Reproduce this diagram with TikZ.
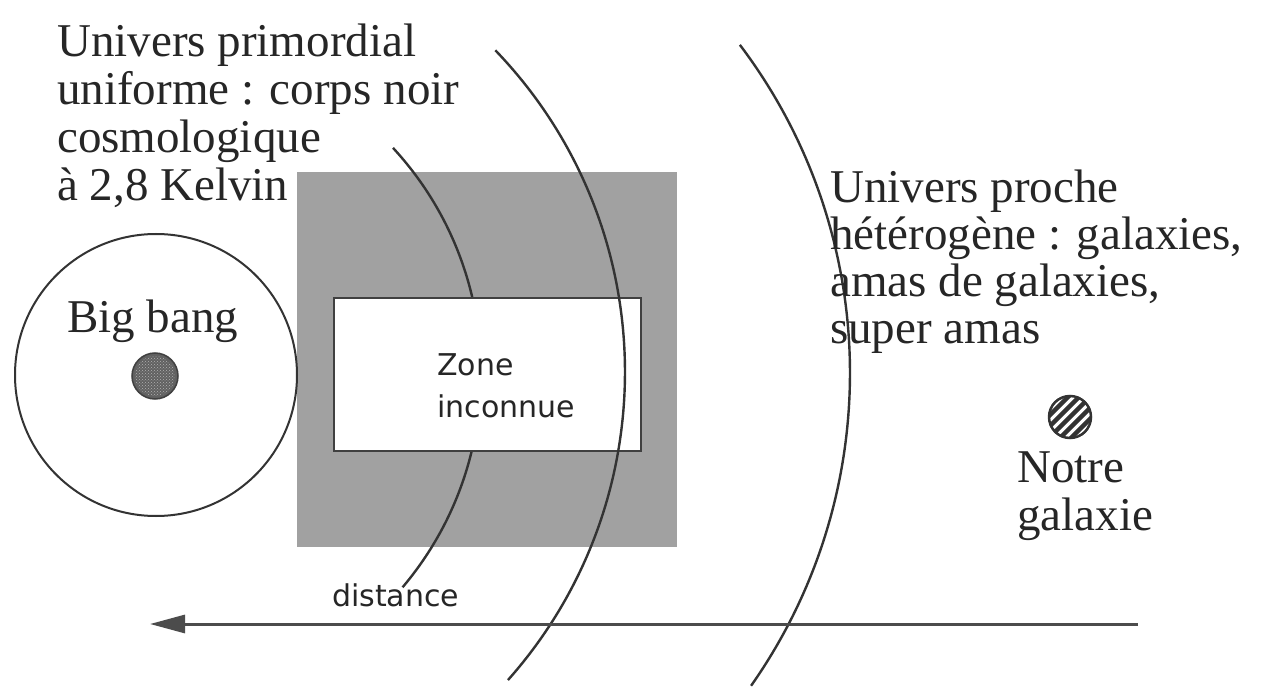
\documentclass[tikz,border=0pt]{standalone}
\usepackage{fontspec}
\setmainfont{Liberation Serif}
\newfontfamily\zonefont{DejaVu Sans}
\usetikzlibrary{arrows.meta,patterns}
\newcommand{\txtlines}[1]{\begin{tabular}[t]{@{}l@{}}#1\end{tabular}}
\begin{document}
\begin{tikzpicture}[x=1pt,y=-1pt,
  serif/.style={font=\fontsize{47}{48}\selectfont, text=black!85, inner sep=0pt, anchor=base west},
  sans/.style={font=\zonefont\fontsize{30}{42}\selectfont, text=black!85, inner sep=0pt, anchor=base west},
  ln/.style={draw=black!80, line width=2.4pt}]
\useasboundingbox (0,0) rectangle (1262,687);
\fill[white] (0,0) rectangle (1262,687);
% shaded square
\node[fill=black!37, minimum width=380pt, minimum height=375pt, inner sep=0pt, anchor=north west] (shade) at (297,172) {};
% inner arc (hidden inside the box)
\draw[ln] ([shift={(-42.7:332)}]149,373) arc[start angle=-42.7, end angle=40.2, radius=332];
% zone box
\node[fill=white, draw=black!75, line width=2.4pt, minimum width=307pt, minimum height=153pt, inner sep=0pt, anchor=north west] (zonebox) at (333,297) {};
% middle and outer arcs
\draw[ln] ([shift={(-43.9:464)}]161,372) arc[start angle=-43.9, end angle=41.6, radius=464];
\draw[ln] ([shift={(-37.1:544)}]306,373) arc[start angle=-37.1, end angle=35.1, radius=544];
% big bang circle
\node[circle, draw=black!80, line width=2pt, minimum size=282pt, inner sep=0pt] (bbcircle) at (156,375) {};
\node[circle, fill=black!62, draw=black!75, line width=1.5pt, minimum size=46pt, inner sep=0pt] (bbdot) at (155,376) {};
\path[pattern=crosshatch dots, pattern color=black!30] (bbdot.center) circle[radius=20];
% our galaxy
\node[circle, minimum size=44pt, inner sep=0pt] (galdot) at (1070,417) {};
\begin{scope}
\clip (galdot.center) circle[radius=22];
\foreach \c in {-44,-33,-22,-11,0,11,22,33,44}
  \draw[line width=4.5pt, black!80] ({1070+\c-35},{417+35}) -- ({1070+\c+35},{417-35});
\end{scope}
\draw[line width=2.5pt, black!80] (galdot.center) circle[radius=21];
% distance arrow
\coordinate (arrstart) at (1138,624);
\coordinate (arrtip) at (150,624);
\draw[line width=3pt, draw=black!70, -{Triangle[length=35pt,width=18pt]}] (arrstart) -- (arrtip);
% texts
\node[serif] (primordial) at (57,57) {\txtlines{Univers primordial\\uniforme : corps noir\\cosmologique\\à 2,8 Kelvin}};
\node[serif] (bigbang) at (67,332) {Big bang};
\node[serif, font=\fontsize{47}{47}\selectfont] (proche) at (830,203) {\txtlines{Univers proche\\hétérogène : galaxies,\\amas de galaxies,\\super amas}};
\node[serif] (notre) at (1017,482) {\txtlines{Notre\\galaxie}};
\node[sans] (zone) at (437,375) {\txtlines{Zone\\inconnue}};
\node[sans] (distance) at (332,606) {distance};
\end{tikzpicture}
\end{document}
